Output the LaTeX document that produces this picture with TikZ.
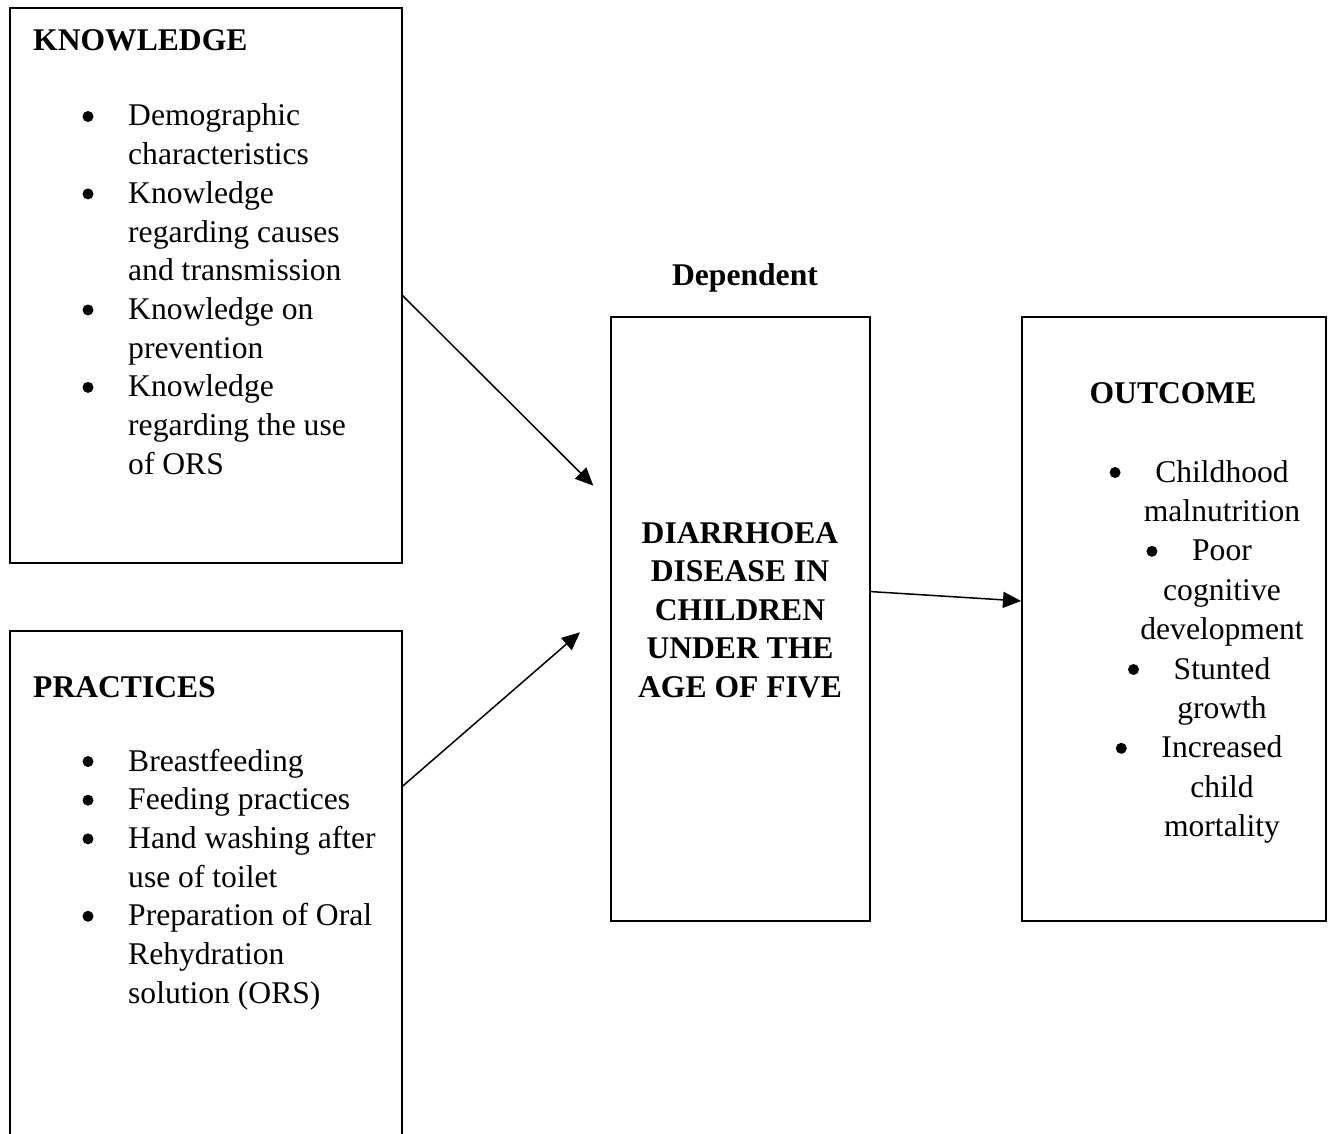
\documentclass[tikz,border=0pt]{standalone}
\usepackage{fontspec}
\setmainfont{Liberation Serif}
\usetikzlibrary{arrows.meta}
\tikzset{
  box/.style={draw, line width=2.4pt, rectangle, inner sep=0pt},
  txt/.style={font=\fontsize{31.6}{38.7}\selectfont, inner sep=0pt},
  hd/.style={txt, font=\fontsize{31.6}{38.7}\selectfont\bfseries},
  conn/.style={line width=1.5pt, -{Triangle[length=18pt,width=16pt]}}
}
\begin{document}
\begin{tikzpicture}[x=1pt,y=-1pt]
\useasboundingbox (0,0) rectangle (1331,1134);
\fill[white] (0,0) rectangle (1331,1134);
% boxes
\node[box, minimum width=392pt, minimum height=555pt] (know) at (206,285.5) {};
\node[minimum width=392pt, minimum height=503pt, inner sep=0pt] (prac) at (206,882.5) {};
\draw[line width=2.4pt] (prac.south west) -- (prac.north west) -- (prac.north east) -- (prac.south east);
\node[box, minimum width=259pt, minimum height=604pt] (dep) at (740.5,619) {};
\node[box, minimum width=304pt, minimum height=604pt] (out) at (1174,619) {};
% headings
\node[hd, anchor=base west] (khd) at (33,51) {KNOWLEDGE};
\node[hd, anchor=base west] (phd) at (33,697) {PRACTICES};
\node[hd, anchor=base] (dhd) at (745,285) {Dependent};
\node[hd, anchor=base] (ohd) at (1173,403) {OUTCOME};
% knowledge items
\foreach \t [count=\i] in {Demographic, characteristics, Knowledge, regarding causes, and transmission, Knowledge on, prevention, Knowledge, regarding the use, of ORS}
  \node[txt, anchor=base west] (k\i) at (128,{126+38.7*(\i-1)}) {\t};
% practices items
\foreach \t [count=\i] in {Breastfeeding, Feeding practices, Hand washing after, use of toilet, Preparation of Oral, Rehydration, solution (ORS)}
  \node[txt, anchor=base west] (p\i) at (128,{771+38.7*(\i-1)}) {\t};
% dependent text
\foreach \t [count=\i] in {DIARRHOEA, DISEASE IN, CHILDREN, UNDER THE, AGE OF FIVE}
  \node[hd, anchor=base] (d\i) at (740,{543+38.6*(\i-1)}) {\t};
% outcome items
\foreach \t [count=\i] in {Childhood, malnutrition, Poor, cognitive, development, Stunted, growth, Increased, child, mortality}
  \node[txt, anchor=base] (o\i) at (1222,{482+39.4*(\i-1)}) {\t};
% bullets
\foreach \n in {k1,k3,k6,k8,p1,p2,p3,p5,o1,o3,o6,o8}
  \fill ([xshift=-40pt,yshift=9.5pt]\n.base west) circle (5.5pt);
% connectors
\coordinate (a1s) at (402,295);
\coordinate (a1e) at (593.3,485.7);
\coordinate (a2s) at (402,786.7);
\coordinate (a2e) at (580,632.3);
\coordinate (a3s) at (869.5,591.5);
\coordinate (a3e) at (1021,601);
\draw[conn] (a1s) -- (a1e);
\draw[conn] (a2s) -- (a2e);
\draw[conn] (a3s) -- (a3e);
\end{tikzpicture}
\end{document}
